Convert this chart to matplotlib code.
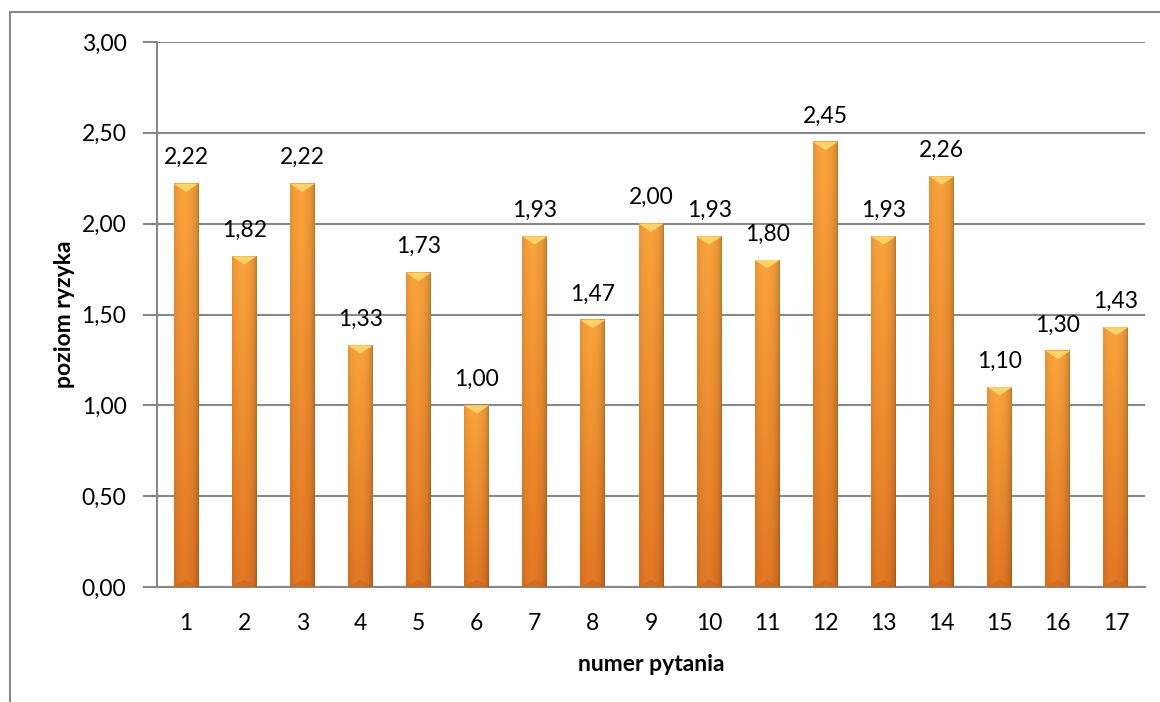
import numpy as np
import matplotlib.pyplot as plt
from matplotlib.lines import Line2D
from matplotlib.patches import Polygon

plt.rcParams['font.family'] = ['Lato', 'DejaVu Sans']

pytania = [str(i) for i in range(1, 18)]
ryzyko = [2.22, 1.82, 2.22, 1.33, 1.73, 1.00, 1.93, 1.47, 2.00,
          1.93, 1.80, 2.45, 1.93, 2.26, 1.10, 1.30, 1.43]
y_ticks = [0, 0.5, 1.0, 1.5, 2.0, 2.5, 3.0]

fig = plt.figure(figsize=(11.6, 7.02), dpi=100)
ax = fig.add_axes([157 / 1160, 1 - 587 / 702, 988 / 1160, 545 / 702])

# cylinder-like gradient for the bars
nx, ny = 60, 120
u = np.linspace(0, 1, nx)
cyl = np.sqrt(np.clip(1 - (2 * u - 0.85) ** 2 / 1.3, 0, 1))
shade = 0.72 + 0.28 * cyl
top = np.array([250, 163, 60]) / 255
bot = np.array([226, 120, 36]) / 255
t = np.linspace(0, 1, ny)[:, None]
base = top * (1 - t) + bot * t
img = np.clip(base[:, None, :] * shade[None, :, None], 0, 1)

fs = 16.5
w = 0.43
for i, v in enumerate(ryzyko):
    x0, x1 = i - w / 2, i + w / 2
    ax.imshow(img, extent=(x0, x1, 0, v), aspect='auto', zorder=3,
              interpolation='bilinear')
    ax.add_patch(Polygon([(x0, v), (x1, v), (i, v - 0.045)], closed=True,
                         facecolor='#ffd36a', edgecolor='none', zorder=4))
    ax.add_patch(Polygon([(x0, 0), (x1, 0), (i, 0.04)], closed=True,
                         facecolor='#c8661e', edgecolor='none', alpha=0.6, zorder=4))
    ax.text(i, v + 0.085, f'{v:.2f}'.replace('.', ','), ha='center', va='bottom',
            fontsize=fs, zorder=5)

ax.set_xlim(-0.5, len(ryzyko) - 0.5)
ax.set_ylim(0, 3.0)
ax.set_yticks(y_ticks)
ax.set_yticklabels([f'{v:.2f}'.replace('.', ',') for v in y_ticks], fontsize=fs)
ax.set_xticks(range(len(pytania)))
ax.set_xticklabels(pytania, fontsize=fs)
ax.tick_params(axis='x', length=0, pad=19)
ax.tick_params(axis='y', length=10, width=1.5, color='#888888', pad=12)
ax.yaxis.grid(True, color='#888888', linewidth=1.5, zorder=0)
ax.set_axisbelow(True)
for s in ['top', 'right']:
    ax.spines[s].set_visible(False)
for s in ['left', 'bottom']:
    ax.spines[s].set_color('#888888')
    ax.spines[s].set_linewidth(1.5)

ax.set_xlabel('numer pytania', fontsize=fs, fontweight='bold', labelpad=14)
ax.set_ylabel('poziom ryzyka', fontsize=fs, fontweight='bold', labelpad=5)

# outer chart border
fig.add_artist(Line2D([10 / 1160, 1], [1 - 12 / 702, 1 - 12 / 702],
                      color='#888888', linewidth=1.5))
fig.add_artist(Line2D([10 / 1160, 10 / 1160], [1 - 12 / 702, 0],
                      color='#888888', linewidth=1.5))

plt.savefig('out.png', dpi=100)
